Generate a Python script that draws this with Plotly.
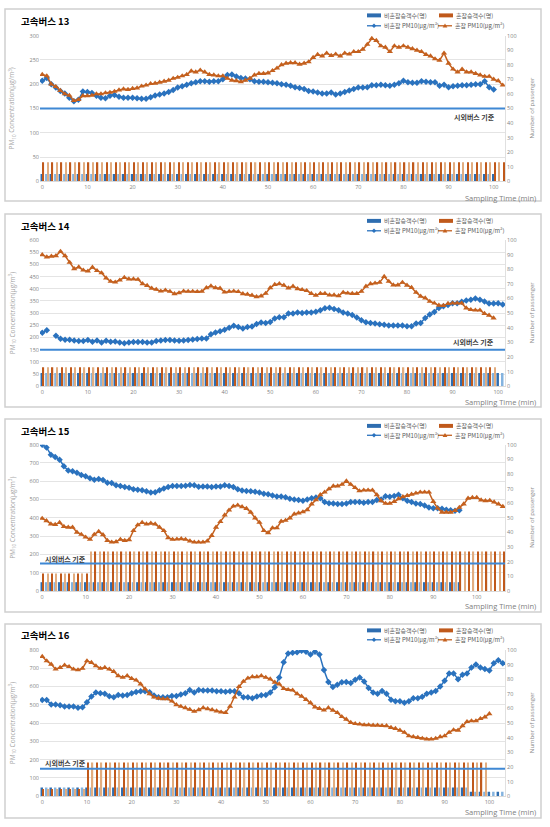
import plotly.graph_objects as go

# ---------------- data ----------------
titles = ["고속버스 13", "고속버스 14", "고속버스 15", "고속버스 16"]
n_slots = [103, 102, 107, 104]
left_max = [300, 600, 800, 800]
left_step = [50, 50, 100, 100]
right_max = 100
right_step = 10
x_ticks = [0, 10, 20, 30, 40, 50, 60, 70, 80, 90, 100]
limit_value = 150
limit_label = "시외버스 기준"

name_pax_normal = "비혼잡승객수(명)"
name_pax_crowd = "혼잡승객수(명)"
name_pm_normal = "비혼잡 PM10(μg/m³)"
name_pm_crowd = "혼잡 PM10(μg/m³)"

# passengers (right axis)
pax_normal_13 = [5] * 101
pax_crowd_13 = [13] * 103
pax_normal_14 = [9] * 102
pax_crowd_14 = [13] * 100
pax_normal_15 = [6] * 97
pax_crowd_15 = [12] * 11 + [27] * 96
pax_normal_16 = [6] * 96 + [3] * 8
pax_crowd_16 = [5] * 10 + [23] * 90

# PM10 (left axis)
pm_normal_13 = [207, 213, 200, 193, 186, 181, 172, 165, 168, 185,
                184, 182, 176, 172, 171, 176, 178, 174, 172, 172,
                172, 171, 170, 170, 173, 177, 179, 181, 184, 188,
                193, 196, 199, 202, 204, 206, 206, 205, 206, 206,
                210, 219, 220, 216, 213, 212, 210, 206, 205, 205,
                204, 203, 202, 200, 199, 197, 194, 192, 190, 186,
                185, 183, 181, 181, 183, 179, 181, 184, 187, 190,
                193, 193, 194, 198, 198, 199, 198, 197, 199, 202,
                207, 204, 203, 203, 206, 205, 204, 204, 197, 199,
                194, 196, 197, 198, 198, 199, 200, 200, 206, 194,
                189]
pm_crowd_13 = [220, 217, 200, 195, 187, 180, 177, 166, 168, 176,
               176, 177, 180, 180, 182, 183, 185, 188, 190, 189,
               191, 192, 196, 198, 201, 202, 204, 206, 208, 212,
               214, 217, 220, 227, 225, 229, 225, 220, 219, 217,
               217, 212, 208, 207, 205, 208, 212, 219, 222, 222,
               223, 228, 233, 240, 243, 244, 244, 241, 243, 246,
               255, 261, 258, 264, 259, 262, 258, 264, 262, 267,
               267, 272, 282, 294, 290, 279, 276, 267, 279, 276,
               279, 276, 273, 270, 267, 261, 258, 252, 249, 264,
               243, 231, 225, 231, 225, 225, 222, 219, 216, 216,
               210, 207, 198]
pm_normal_14 = [220, 230, None, 207, 195, 191, 191, 188, 186, 186,
                190, 183, 188, 180, 187, 183, 184, 180, 176, 180,
                182, 182, 182, 179, 180, 186, 188, 190, 190, 188,
                187, 188, 190, 192, 194, 196, 196, 213, 221, 226,
                232, 240, 248, 243, 237, 243, 245, 255, 262, 260,
                264, 278, 283, 283, 298, 298, 303, 301, 303, 303,
                306, 312, 320, 322, 317, 312, 303, 298, 292, 282,
                271, 263, 260, 257, 254, 252, 249, 249, 249, 249,
                246, 246, 257, 260, 280, 294, 305, 321, 328, 333,
                341, 341, 347, 352, 355, 360, 355, 348, 339, 339,
                341, 335]
pm_crowd_14 = [539, 530, 533, 535, 553, 535, 508, 482, 489, 476,
               472, 488, 474, 465, 444, 430, 427, 435, 446, 440,
               440, 438, 420, 413, 402, 397, 390, 394, 389, 379,
               383, 390, 389, 389, 388, 389, 404, 411, 404, 402,
               386, 389, 390, 388, 379, 377, 373, 367, 370, 381,
               404, 417, 420, 414, 403, 410, 400, 396, 392, 380,
               373, 380, 380, 374, 374, 371, 385, 382, 380, 380,
               389, 410, 420, 423, 426, 450, 430, 415, 415, 426,
               414, 405, 385, 369, 362, 348, 341, 332, 331, 339,
               341, 341, 341, 321, 314, 312, 312, 298, 291, 280]
pm_normal_15 = [800, 785, 745, 733, 718, 682, 659, 655, 646, 634,
                628, 616, 608, 612, 607, 592, 590, 578, 574, 569,
                565, 556, 554, 551, 545, 538, 540, 551, 561, 569,
                574, 574, 574, 576, 579, 578, 570, 572, 572, 569,
                572, 572, 578, 574, 569, 556, 549, 547, 545, 543,
                538, 532, 529, 522, 517, 517, 513, 504, 500, 497,
                493, 500, 507, 511, 507, 486, 480, 479, 475, 475,
                479, 486, 486, 486, 482, 486, 486, 497, 500, 518,
                515, 520, 526, 507, 493, 486, 479, 475, 468, 457,
                453, 453, 450, 444, 441, 439, 441]
pm_crowd_15 = [397, 384, 366, 363, 374, 352, 348, 348, 321, 309,
               294, 282, 309, 325, 307, 276, 267, 269, 282, 276,
               280, 330, 361, 374, 366, 370, 366, 348, 330, 291,
               282, 283, 285, 282, 273, 267, 267, 267, 273, 303,
               348, 379, 415, 442, 464, 469, 460, 451, 430, 399,
               375, 330, 318, 345, 345, 381, 386, 399, 421, 426,
               432, 444, 475, 498, 526, 540, 558, 574, 574, 583,
               601, 583, 565, 547, 551, 551, 551, 526, 493, 479,
               479, 489, 504, 515, 522, 529, 535, 540, 540, 540,
               489, 453, 430, 430, 430, 439, 457, 475, 507, 511,
               511, 497, 493, 495, 486, 475, 462]
pm_normal_16 = [527, 527, 502, 502, 498, 491, 491, 491, 484, 487,
                514, 545, 567, 563, 560, 547, 542, 554, 551, 554,
                563, 570, 574, 574, 569, 551, 542, 542, 542, 549,
                549, 556, 563, 581, 567, 581, 578, 578, 578, 574,
                574, 572, 574, 574, 563, 542, 542, 536, 545, 552,
                554, 567, 596, 650, 733, 781, 785, 787, 796, 791,
                776, 791, 776, 691, 625, 598, 610, 623, 625, 619,
                637, 650, 628, 592, 568, 560, 576, 560, 528, 520,
                520, 512, 520, 536, 536, 544, 560, 568, 576, 600,
                632, 672, 672, 640, 664, 672, 704, 720, 704, 696,
                688, 728, 744, 728]
pm_crowd_16 = [764, 740, 722, 695, 704, 717, 709, 695, 691, 699,
               740, 731, 713, 699, 704, 695, 682, 659, 650, 659,
               644, 635, 614, 587, 560, 542, 536, 532, 532, 520,
               500, 491, 484, 475, 464, 473, 484, 478, 473, 466,
               460, 457, 491, 542, 599, 628, 646, 653, 653, 659,
               650, 641, 623, 614, 589, 583, 580, 560, 547, 529,
               511, 488, 480, 471, 484, 470, 457, 435, 421, 403,
               397, 394, 390, 390, 388, 388, 386, 385, 376, 370,
               361, 349, 330, 325, 321, 316, 312, 312, 316, 325,
               330, 349, 363, 361, 385, 408, 412, 412, 424, 433,
               451]

pax_normal = [pax_normal_13, pax_normal_14, pax_normal_15, pax_normal_16]
pax_crowd = [pax_crowd_13, pax_crowd_14, pax_crowd_15, pax_crowd_16]
pm_normal = [pm_normal_13, pm_normal_14, pm_normal_15, pm_normal_16]
pm_crowd = [pm_crowd_13, pm_crowd_14, pm_crowd_15, pm_crowd_16]

# ---------------- style / layout ----------------
W, H = 550, 827
FONT = "Noto Sans CJK KR, Noto Sans, sans-serif"
LATIN = "Open Sans, Noto Sans, sans-serif"
BLUE = "#2A72BE"
ORANGE = "#C4601E"
BLUE_D, BLUE_L = "#2E6DB0", "#84B3DF"
ORANGE_D, ORANGE_L = "#C0591B", "#E2AD80"
GRID = "#E4E4E4"
TICK = "#7F7F7F"


def fx(p):
    return p / W


def fy(p):
    return 1 - p / H


plot_left, plot_right = 40, 505
top_px = [32, 238.3, 445, 652.3]
bot_px = [179, 386, 592.7, 800]
box_px = [(5, 199), (212, 407), (419, 614), (626, 822)]
title_px = [17, 224, 431, 637]
legend_px = [(11.5, 22), (219, 229), (426, 435.5), (632.5, 642)]
xlabel_px = [196, 401.7, 608.3, 816]
limit_lbl = [(497, 114, "right"), (496, 341, "right"), (43, 560, "left"), (43, 766.7, "left")]

fig = go.Figure()
layout = dict(
    width=W, height=H, autosize=False,
    margin=dict(l=0, r=0, t=0, b=0),
    paper_bgcolor="white", plot_bgcolor="white",
    font=dict(family=FONT, color=TICK),
    barmode="overlay", showlegend=False,
    shapes=[], annotations=[],
)

tickfont = dict(family=LATIN, size=5.5, color=TICK)
legfont = dict(family=FONT, size=6, color="#595959")

for k in range(4):
    xa = "x" if k == 0 else f"x{k+1}"
    yl = "y" if k == 0 else f"y{2*k+1}"
    yr = f"y{2*k+2}"
    xname = "xaxis" if k == 0 else f"xaxis{k+1}"
    ylname = "yaxis" if k == 0 else f"yaxis{2*k+1}"
    yrname = f"yaxis{2*k+2}"

    n = n_slots[k]
    xs_pn = list(range(len(pax_normal[k])))
    xs_pc = list(range(len(pax_crowd[k])))
    fig.add_trace(go.Bar(
        x=xs_pn, y=pax_normal[k], xaxis=xa, yaxis=yr, name=name_pax_normal,
        width=0.55, offset=-0.38,
        marker=dict(color=[BLUE_D if i % 2 == 0 else BLUE_L for i in xs_pn], line=dict(width=0)),
    ))
    fig.add_trace(go.Bar(
        x=xs_pc, y=pax_crowd[k], xaxis=xa, yaxis=yr, name=name_pax_crowd,
        width=0.28, offset=0.12,
        marker=dict(color=[ORANGE_D if i % 2 == 0 else ORANGE_L for i in xs_pc], line=dict(width=0)),
    ))
    fig.add_trace(go.Scatter(
        x=list(range(len(pm_normal[k]))), y=pm_normal[k], xaxis=xa, yaxis=yl,
        name=name_pm_normal, mode="lines+markers", connectgaps=False,
        line=dict(color=BLUE, width=1.5), marker=dict(symbol="diamond", size=5, color=BLUE),
    ))
    fig.add_trace(go.Scatter(
        x=list(range(len(pm_crowd[k]))), y=pm_crowd[k], xaxis=xa, yaxis=yl,
        name=name_pm_crowd, mode="lines+markers",
        line=dict(color=ORANGE, width=1.5), marker=dict(symbol="triangle-up", size=5.5, color=ORANGE),
    ))

    layout[xname] = dict(
        domain=[fx(plot_left), fx(plot_right)], anchor=yl,
        range=[-0.5, n - 0.5], tickmode="array", tickvals=x_ticks,
        showgrid=False, zeroline=False, showline=True, linecolor="#D9D9D9", linewidth=1,
        ticks="", tickfont=tickfont,
    )
    layout[ylname] = dict(
        domain=[fy(bot_px[k]), fy(top_px[k])], anchor=xa,
        range=[0, left_max[k]], dtick=left_step[k], tick0=0,
        showgrid=True, gridcolor=GRID, gridwidth=1, zeroline=False, showline=False,
        ticks="", tickfont=tickfont,
    )
    layout[yrname] = dict(
        overlaying=yl, side="right", anchor=xa,
        range=[0, right_max], dtick=right_step, tick0=0,
        showgrid=False, zeroline=False, showline=True, linecolor="#E0E0E0",
        ticks="", tickfont=tickfont,
    )

    # panel border
    b0, b1 = box_px[k]
    layout["shapes"].append(dict(
        type="rect", xref="paper", yref="paper", x0=fx(5), x1=fx(541), y0=fy(b1), y1=fy(b0),
        line=dict(color="#D0D0D0", width=1.5), fillcolor="rgba(0,0,0,0)", layer="below",
    ))
    # standard line
    layout["shapes"].append(dict(
        type="line", xref=f"{xa} domain", yref=yl, x0=0, x1=1, y0=limit_value, y1=limit_value,
        line=dict(color="#3F88D4", width=2), layer="above",
    ))

    # legend (drawn as swatches + text)
    r1, r2 = legend_px[k]
    layout["shapes"] += [
        dict(type="rect", xref="paper", yref="paper", x0=fx(367), x1=fx(381),
             y0=fy(r1 + 2), y1=fy(r1 - 2), line=dict(width=0), fillcolor=BLUE_D),
        dict(type="rect", xref="paper", yref="paper", x0=fx(439), x1=fx(453),
             y0=fy(r1 + 2), y1=fy(r1 - 2), line=dict(width=0), fillcolor=ORANGE_D),
        dict(type="line", xref="paper", yref="paper", x0=fx(367), x1=fx(381),
             y0=fy(r2), y1=fy(r2), line=dict(color=BLUE, width=1.3)),
        dict(type="path", xref="paper", yref="paper",
             path=(f"M{fx(374)},{fy(r2 - 2.2)} L{fx(376.2)},{fy(r2)} "
                   f"L{fx(374)},{fy(r2 + 2.2)} L{fx(371.8)},{fy(r2)} Z"),
             line=dict(width=0), fillcolor=BLUE),
        dict(type="line", xref="paper", yref="paper", x0=fx(438), x1=fx(452),
             y0=fy(r2), y1=fy(r2), line=dict(color=ORANGE, width=1.3)),
        dict(type="path", xref="paper", yref="paper",
             path=(f"M{fx(445)},{fy(r2 - 2.3)} L{fx(447.4)},{fy(r2 + 1.8)} "
                   f"L{fx(442.6)},{fy(r2 + 1.8)} Z"),
             line=dict(width=0), fillcolor=ORANGE),
    ]
    for tx, ty, tt in [(382, r1, name_pax_normal), (454, r1, name_pax_crowd),
                       (382, r2, name_pm_normal), (453, r2, name_pm_crowd)]:
        layout["annotations"].append(dict(
            text=tt, x=fx(tx), y=fy(ty), xref="paper", yref="paper",
            xanchor="left", yanchor="middle", showarrow=False, font=legfont))

    mid = (top_px[k] + bot_px[k]) / 2
    layout["annotations"] += [
        dict(text=f"<b>{titles[k]}</b>", x=fx(19), y=fy(title_px[k]), xref="paper", yref="paper",
             xanchor="left", yanchor="middle", showarrow=False,
             font=dict(family=FONT, size=9.5, color="#000000")),
        dict(text="Sampling Time (min)", x=fx(538), y=fy(xlabel_px[k]), xref="paper", yref="paper",
             xanchor="right", yanchor="middle", showarrow=False,
             font=dict(family=LATIN, size=7.5, color="#808080")),
        dict(text="PM<sub>10</sub> Concentration(μg/m<sup>3</sup>)", x=fx(12), y=fy(mid),
             xref="paper", yref="paper", xanchor="center", yanchor="middle", textangle=-90,
             showarrow=False, font=dict(family=LATIN, size=6.5, color="#A6A6A6")),
        dict(text="Number of passenger", x=fx(532), y=fy(mid), xref="paper", yref="paper",
             xanchor="center", yanchor="middle", textangle=-90, showarrow=False,
             font=dict(family=LATIN, size=6, color="#8C8C8C")),
        dict(text=f"<b>{limit_label}</b>", x=fx(limit_lbl[k][0]), y=fy(limit_lbl[k][1]),
             xref="paper", yref="paper", xanchor=limit_lbl[k][2], yanchor="middle",
             showarrow=False, font=dict(family=FONT, size=7, color="#404040")),
    ]

fig.update_layout(**layout)
fig.write_html("out.html", config={"displayModeBar": False},
               post_script="document.body.style.margin='0px';")
